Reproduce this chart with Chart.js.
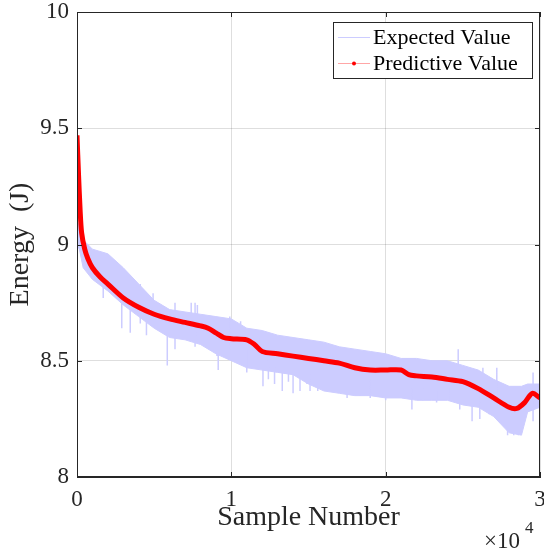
<!DOCTYPE html>
<html>
<head>
<meta charset="utf-8">
<script src="https://cdn.jsdelivr.net/npm/chart.js@4/dist/chart.umd.min.js"></script>
<style>
  html, body { margin: 0; padding: 0; background: #fff; }
  #wrap { width: 544px; height: 551px; }
</style>
</head>
<body>
<div id="wrap"><canvas id="chart" width="544" height="551"></canvas></div>
<script>
// sample positions for the expected-value band (upper / lower envelope)
const bandX = [0, 150, 400, 1000, 2000, 3000, 4000, 5000, 6000, 7000, 8000, 9000, 10000,
  11000, 12000, 13000, 14000, 15000, 16000, 17000, 18000, 19000, 20000, 21000, 22000,
  23000, 24000, 25000, 26000, 27000, 28000, 28800, 29200, 30000];
const bandUpper = [9.10, 9.08, 9.02, 8.98, 8.96, 8.90, 8.83, 8.76, 8.72, 8.71, 8.70, 8.69, 8.68,
  8.64, 8.63, 8.61, 8.60, 8.59, 8.58, 8.56, 8.55, 8.54, 8.53, 8.51, 8.51,
  8.50, 8.50, 8.48, 8.46, 8.42, 8.39, 8.39, 8.40, 8.40];
const bandLower = [9.00, 8.98, 8.90, 8.85, 8.80, 8.74, 8.69, 8.64, 8.60, 8.59, 8.57, 8.53, 8.50,
  8.47, 8.46, 8.45, 8.44, 8.40, 8.37, 8.36, 8.35, 8.35, 8.34, 8.34, 8.33,
  8.33, 8.33, 8.31, 8.30, 8.26, 8.19, 8.18, 8.28, 8.30];

// start transient of the expected value (dark vertical trace at sample 0)
const startX = [0, 0];
const startY = [9.75, 9.0];

// isolated spikes of the expected value (sample, low, high)
const spikeX =    [970, 1700, 2900, 3450, 4100, 4500, 4930, 5000, 5850, 6350, 7400, 7650, 7800,
  9070, 9150, 9900, 10500, 10600, 11000, 11800, 12050, 12400, 12800, 13300, 13700, 14000,
  14450, 14900, 15100, 15600, 17500, 18300, 19000, 20000, 21700, 22400, 23300, 24100,
  24700, 24800, 25600, 26100, 26300, 26700, 27200, 27900, 28300, 28600, 29550];
const spikeLow =  [8.88, 8.77, 8.64, 8.62, 8.66, 8.61, 8.68, 8.65, 8.48, 8.55, 8.60, 8.56, 8.60,
  8.52, 8.46, 8.55, 8.56, 8.55, 8.45, 8.56, 8.39, 8.42, 8.40, 8.37, 8.41, 8.36,
  8.37, 8.40, 8.37, 8.37, 8.34, 8.35, 8.34, 8.33, 8.29, 8.33, 8.32, 8.33,
  8.40, 8.29, 8.24, 8.25, 8.35, 8.27, 8.30, 8.18, 8.18, 8.18, 8.24];
const spikeHigh = [8.97, 8.85, 8.78, 8.74, 8.83, 8.70, 8.79, 8.72, 8.66, 8.75, 8.75, 8.75, 8.74,
  8.60, 8.58, 8.69, 8.65, 8.67, 8.55, 8.60, 8.50, 8.50, 8.50, 8.48, 8.48, 8.48,
  8.48, 8.47, 8.45, 8.44, 8.42, 8.40, 8.42, 8.40, 8.38, 8.38, 8.37, 8.38,
  8.55, 8.38, 8.35, 8.35, 8.47, 8.36, 8.47, 8.30, 8.30, 8.30, 8.45];

// predictive value (red curve)
const predX = [0, 100, 200, 300, 500, 700, 1000, 1500, 2000, 3000, 4000, 5000, 6000, 7000, 8000,
  8500, 9000, 9500, 10000, 11000, 11500, 12000, 13000, 14000, 15000, 16000, 17000, 18000,
  19000, 20000, 21000, 21500, 22000, 23000, 24000, 25000, 26000, 27000, 28000, 28500,
  29000, 29500, 30000];
const predY = [9.47, 9.30, 9.15, 9.05, 8.98, 8.94, 8.90, 8.86, 8.83, 8.77, 8.73, 8.70, 8.68, 8.665, 8.65,
  8.64, 8.62, 8.60, 8.595, 8.59, 8.57, 8.54, 8.53, 8.52, 8.51, 8.50, 8.49, 8.47,
  8.46, 8.46, 8.46, 8.44, 8.435, 8.43, 8.42, 8.41, 8.38, 8.34, 8.30, 8.295,
  8.32, 8.36, 8.34];

const xTicks = [0, 10000, 20000, 30000];
const yTicks = [8, 8.5, 9, 9.5, 10];
const legendLabels = ['Expected Value', 'Predictive Value'];

const FONT = "'Liberation Serif', 'Times New Roman', serif";
const INK = '#262626';
const BLUE = 'rgb(204,204,255)';

const spikeData = [];
spikeX.forEach((x, i) => {
  spikeData.push({ x: x, y: spikeHigh[i] });
  spikeData.push({ x: x, y: spikeLow[i] });
  spikeData.push({ x: x, y: null });
});

const framePlugin = {
  id: 'frame',
  afterDraw(chart) {
    const { ctx, chartArea: a, scales } = chart;
    ctx.save();
    ctx.strokeStyle = INK;
    ctx.lineWidth = 1;
    ctx.strokeRect(a.left + 0.5, a.top + 0.5, a.right - a.left - 1, a.bottom - a.top - 1);
    ctx.beginPath();
    xTicks.forEach(v => {
      const px = Math.round(scales.x.getPixelForValue(v)) + 0.5;
      ctx.moveTo(px, a.bottom); ctx.lineTo(px, a.bottom - 5);
      ctx.moveTo(px, a.top); ctx.lineTo(px, a.top + 5);
    });
    yTicks.forEach(v => {
      const py = Math.round(scales.y.getPixelForValue(v)) + 0.5;
      ctx.moveTo(a.left, py); ctx.lineTo(a.left + 5, py);
      ctx.moveTo(a.right, py); ctx.lineTo(a.right - 5, py);
    });
    ctx.stroke();

    // exponent label
    ctx.fillStyle = INK;
    ctx.textBaseline = 'alphabetic';
    ctx.textAlign = 'left';
    ctx.font = '23px ' + FONT;
    ctx.fillText('\u00d710', 484, 548);
    ctx.font = '17px ' + FONT;
    ctx.fillText('4', 525, 533);

    // legend
    const lx = 333, ly = 22, lw = 199, lh = 56;
    ctx.fillStyle = '#fff';
    ctx.fillRect(lx, ly, lw, lh);
    ctx.strokeStyle = INK;
    ctx.strokeRect(lx + 0.5, ly + 0.5, lw, lh);
    const rows = [ly + 15, ly + 41];
    ctx.lineWidth = 1;
    ctx.strokeStyle = BLUE;
    ctx.beginPath(); ctx.moveTo(338, rows[0] + 0.5); ctx.lineTo(370, rows[0] + 0.5); ctx.stroke();
    ctx.strokeStyle = 'rgba(255,0,0,0.35)';
    ctx.beginPath(); ctx.moveTo(338, rows[1] + 0.5); ctx.lineTo(370, rows[1] + 0.5); ctx.stroke();
    ctx.fillStyle = 'red';
    ctx.beginPath(); ctx.arc(354, rows[1] + 0.5, 2, 0, Math.PI * 2); ctx.fill();
    ctx.fillStyle = '#000';
    ctx.font = '22px ' + FONT;
    ctx.textBaseline = 'middle';
    legendLabels.forEach((t, i) => ctx.fillText(t, 373, rows[i] + 1));
    ctx.restore();
  }
};

new Chart(document.getElementById('chart'), {
  type: 'line',
  data: {
    datasets: [
      {
        label: legendLabels[1],
        data: predX.map((x, i) => ({ x: x, y: predY[i] })),
        borderColor: 'red',
        borderWidth: 5,
        pointRadius: 0,
        tension: 0.3,
        order: 0
      },
      {
        label: 'start',
        data: startX.map((x, i) => ({ x: x, y: startY[i] })),
        borderColor: 'rgb(70,70,150)',
        borderWidth: 1.5,
        pointRadius: 0,
        order: 1
      },
      {
        label: 'spikes',
        data: spikeData,
        borderColor: BLUE,
        borderWidth: 1.5,
        pointRadius: 0,
        spanGaps: false,
        order: 2
      },
      {
        label: 'upper',
        data: bandX.map((x, i) => ({ x: x, y: bandUpper[i] })),
        borderColor: BLUE,
        borderWidth: 1,
        pointRadius: 0,
        fill: false,
        order: 3
      },
      {
        label: legendLabels[0],
        data: bandX.map((x, i) => ({ x: x, y: bandLower[i] })),
        borderColor: BLUE,
        backgroundColor: BLUE,
        borderWidth: 1,
        pointRadius: 0,
        fill: '-1',
        order: 4
      }
    ]
  },
  options: {
    responsive: false,
    animation: false,
    layout: { padding: { top: 12, right: 4, left: 0, bottom: 0 } },
    plugins: {
      legend: { display: false },
      tooltip: { enabled: false }
    },
    scales: {
      x: {
        type: 'linear',
        min: 0,
        max: 30000,
        afterFit: s => { s.height = 74; s.paddingLeft = 0; s.paddingRight = 0; },
        afterBuildTicks: s => { s.ticks = xTicks.map(v => ({ value: v })); },
        ticks: {
          color: INK,
          font: { family: FONT, size: 23 },
          padding: 9,
          maxRotation: 0,
          callback: v => String(v / 10000)
        },
        grid: { color: 'rgba(0,0,0,0.13)', drawTicks: false },
        border: { color: INK },
        title: {
          display: true,
          text: 'Sample Number',
          color: INK,
          font: { family: FONT, size: 28 },
          padding: { top: 0, bottom: 17 }
        }
      },
      y: {
        min: 8,
        max: 10,
        afterFit: s => { s.width = 77; s.paddingTop = 0; s.paddingBottom = 0; },
        afterBuildTicks: s => { s.ticks = yTicks.map(v => ({ value: v })); },
        ticks: {
          color: INK,
          font: { family: FONT, size: 23 },
          padding: 8,
          callback: v => String(v)
        },
        grid: { color: 'rgba(0,0,0,0.13)', drawTicks: false },
        border: { color: INK },
        title: {
          display: true,
          text: 'Energy  (J)',
          color: INK,
          font: { family: FONT, size: 28 },
          padding: { top: 4, bottom: 0 }
        }
      }
    }
  },
  plugins: [framePlugin]
});
</script>
</body>
</html>
